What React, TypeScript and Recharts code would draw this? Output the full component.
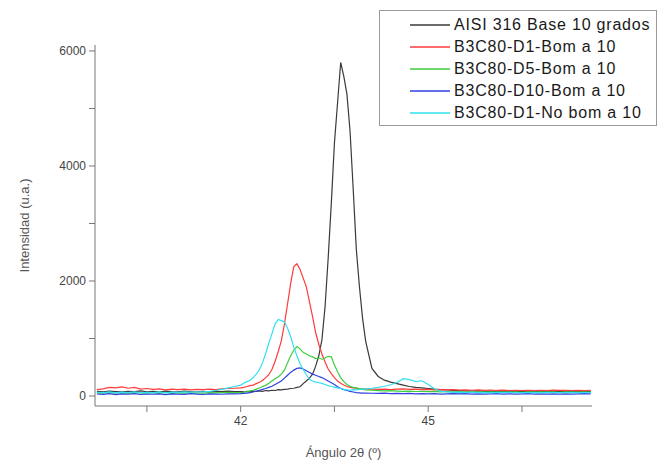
import React from 'react';
import { LineChart, Line, XAxis, YAxis, Legend, Label } from 'recharts';

// Diffraction angle grid (2θ, degrees)
const anglesLow = [39.7, 39.8, 39.9, 40.0, 40.1, 40.2, 40.3, 40.4, 40.5, 40.6, 40.7, 40.8, 40.9, 41.0, 41.1, 41.2, 41.3, 41.4, 41.5, 41.6, 41.7, 41.8, 41.9];
const anglesPeak = [42.0, 42.05, 42.1, 42.15, 42.2, 42.25, 42.3, 42.35, 42.4, 42.45, 42.5, 42.55, 42.6, 42.65, 42.7, 42.75, 42.8, 42.85, 42.9, 42.95, 43.0, 43.05, 43.1, 43.15, 43.2, 43.25, 43.3, 43.35, 43.4, 43.45, 43.5, 43.55, 43.6, 43.65, 43.7, 43.75, 43.8, 43.85, 43.9, 43.95, 44.0];
const anglesHigh = [44.1, 44.2, 44.3, 44.4, 44.5, 44.6, 44.7, 44.8, 44.9, 45.0, 45.1, 45.2, 45.3, 45.4, 45.5, 45.6, 45.7, 45.8, 45.9, 46.0, 46.1, 46.2, 46.3, 46.4, 46.5, 46.6, 46.7, 46.8, 46.9, 47.0, 47.1, 47.2, 47.3, 47.4, 47.5, 47.6];

// Intensities (a.u.)
const aisiBase = [
  80, 72, 85, 78, 70, 82, 75, 88, 74, 80, 70, 84, 76, 72, 86, 78, 74, 82, 70, 80, 76, 84, 78,
  75, 70, 80, 72, 85, 78, 90, 82, 95, 88, 100, 96, 110, 105, 115, 120, 130, 135, 150, 160, 215, 260, 310, 380, 520, 700, 980, 1550, 2400, 3350, 4400, 5100, 5800, 5560, 5250, 4600, 3600, 2550, 1900, 1350, 950,
  480, 340, 275, 240, 215, 190, 165, 150, 140, 130, 118, 110, 104, 98, 92, 88, 85, 90, 82, 86, 80, 84, 78, 82, 76, 80, 84, 78, 82, 76, 80, 84, 78, 82, 76, 80,
];
const d1Bom = [
  110, 125, 150, 140, 160, 135, 150, 120, 130, 115, 125, 108, 118, 112, 120, 105, 115, 110, 118, 112, 125, 130, 135,
  140, 150, 165, 180, 190, 215, 240, 270, 320, 370, 460, 600, 770, 960, 1250, 1600, 1960, 2250, 2300, 2200, 2050, 1900, 1640, 1380, 1100, 900, 730, 590, 470, 390, 320, 260, 220, 190, 165, 150, 140, 135, 130, 125, 120,
  118, 115, 120, 112, 118, 125, 115, 120, 110, 115, 108, 112, 105, 110, 102, 108, 100, 105, 98, 104, 96, 102, 95, 100, 94, 98, 92, 100, 95, 102, 96, 100, 94, 98, 95, 100,
];
const d5Bom = [
  55, 48, 62, 50, 58, 45, 60, 52, 48, 56, 50, 62, 46, 55, 50, 58, 52, 48, 60, 54, 58, 62, 58,
  60, 65, 75, 90, 100, 120, 140, 165, 185, 220, 260, 300, 330, 380, 450, 580, 700, 800, 860, 820, 760, 730, 700, 680, 650, 660, 640, 660, 690, 680, 540, 420, 320, 250, 200, 170, 150, 140, 130, 115, 105,
  100, 95, 88, 92, 85, 80, 86, 78, 82, 75, 80, 72, 78, 70, 76, 68, 74, 70, 66, 72, 68, 74, 66, 70, 64, 72, 68, 74, 66, 70, 64, 72, 68, 66, 70, 68,
];
const d10Bom = [
  35, 28, 40, 25, 38, 30, 42, 26, 34, 30, 38, 24, 36, 30, 28, 40, 32, 26, 38, 34, 30, 36, 38,
  40, 45, 50, 60, 70, 85, 100, 115, 130, 150, 170, 200, 230, 260, 310, 360, 410, 450, 480, 490, 470, 440, 410, 380, 360, 340, 320, 290, 260, 230, 200, 160, 130, 110, 95, 80, 70, 60, 55, 50, 50,
  48, 44, 50, 42, 46, 40, 44, 38, 42, 36, 40, 34, 38, 42, 36, 40, 34, 38, 32, 36, 40, 34, 38, 32, 36, 40, 34, 38, 32, 36, 34, 38, 32, 36, 40, 36,
];
const d1NoBom = [
  65, 58, 70, 55, 68, 60, 72, 56, 64, 60, 70, 54, 66, 62, 70, 68, 74, 72, 80, 95, 115, 140, 165,
  190, 220, 250, 275, 320, 380, 460, 580, 740, 920, 1080, 1250, 1330, 1310, 1290, 1180, 1030, 850, 700, 560, 460, 370, 290, 260, 240, 230, 220, 200, 180, 165, 155, 140, 130, 115, 105, 100, 110, 105, 115, 120, 125,
  135, 150, 170, 195, 235, 300, 285, 250, 265, 200, 125, 80, 70, 64, 68, 60, 66, 58, 64, 56, 62, 58, 64, 56, 60, 58, 64, 56, 62, 58, 60, 56, 62, 58, 60, 58,
];

const seriesNames = [
  'AISI 316 Base 10 grados',
  'B3C80-D1-Bom a 10',
  'B3C80-D5-Bom a 10',
  'B3C80-D10-Bom a 10',
  'B3C80-D1-No bom a 10',
];
const xTicks = [40.5, 42, 43.5, 45, 46.5];
const xTickLabels = [42, 45];
const yTicks = [0, 1000, 2000, 3000, 4000, 5000, 6000];
const yTickLabels = [0, 2000, 4000, 6000];

const angles = [...anglesLow, ...anglesPeak, ...anglesHigh];
const data = angles.map((a, i) => ({
  angle: a,
  base: aisiBase[i],
  d1: d1Bom[i],
  d5: d5Bom[i],
  d10: d10Bom[i],
  d1no: d1NoBom[i],
}));

const FONT = '"Liberation Sans", Arial, sans-serif';

const LegendBox = (props: any) => {
  const payload = [...(props.payload || [])].sort(
    (a: any, b: any) => seriesNames.indexOf(a.value) - seriesNames.indexOf(b.value)
  );
  return (
    <div
      style={{
        width: 278,
        height: 116,
        border: '1px solid #9a9a9a',
        background: '#fff',
        boxSizing: 'border-box',
        paddingTop: 3,
        fontFamily: FONT,
      }}
    >
      {payload.map((e: any) => (
        <div key={e.value} style={{ display: 'flex', alignItems: 'center', height: 22 }}>
          <svg width={74} height={22} style={{ flex: 'none' }}>
            <line x1={30} x2={70} y1={11} y2={11} stroke={e.color} strokeWidth={1.5} />
          </svg>
          <span style={{ fontSize: 16, letterSpacing: 0.8, color: '#1a1a1a', whiteSpace: 'nowrap' }}>{e.value}</span>
        </div>
      ))}
    </div>
  );
};

export default function App() {
  return (
    <div style={{ position: 'absolute', left: 0, top: 0, background: '#fff' }}>
      <LineChart
        width={670}
        height={465}
        data={data}
        margin={{ top: 45, right: 78, bottom: 0, left: 25 }}
        style={{ fontFamily: FONT }}
      >
        <XAxis
          dataKey="angle"
          type="number"
          domain={[39.67, 47.62]}
          ticks={xTicks}
          allowDataOverflow
          height={59}
          tickSize={6}
          tickMargin={4}
          stroke="#777"
          tick={{ fill: '#444', fontSize: 12 }}
          tickFormatter={(v: number) => (xTickLabels.includes(v) ? String(v) : '')}
        >
          <Label value="Ángulo 2θ (º)" position="insideBottom" offset={8} fill="#555" fontSize={13} />
        </XAxis>
        <YAxis
          type="number"
          domain={[-174, 6104]}
          ticks={yTicks}
          allowDataOverflow
          width={70}
          tickSize={6}
          tickMargin={3}
          stroke="#777"
          tick={{ fill: '#444', fontSize: 12 }}
          tickFormatter={(v: number) => (yTickLabels.includes(v) ? String(v) : '')}
        >
          <Label
            value="Intensidad (u.a.)"
            angle={-90}
            position="insideLeft"
            offset={-1}
            fill="#555"
            fontSize={13}
            style={{ textAnchor: 'middle' }}
          />
        </YAxis>
        <Legend
          layout="vertical"
          align="center"
          verticalAlign="middle"
          content={LegendBox}
          wrapperStyle={{ left: 379, top: 10, width: 278, height: 116 }}
        />
        <Line dataKey="base" name={seriesNames[0]} stroke="#3a3a3a" strokeWidth={1.2} dot={false} isAnimationActive={false} />
        <Line dataKey="d1" name={seriesNames[1]} stroke="#ff3b3b" strokeWidth={1.2} dot={false} isAnimationActive={false} />
        <Line dataKey="d5" name={seriesNames[2]} stroke="#3ccc3c" strokeWidth={1.2} dot={false} isAnimationActive={false} />
        <Line dataKey="d10" name={seriesNames[3]} stroke="#3040e0" strokeWidth={1.2} dot={false} isAnimationActive={false} />
        <Line dataKey="d1no" name={seriesNames[4]} stroke="#30e0f0" strokeWidth={1.2} dot={false} isAnimationActive={false} />
      </LineChart>
    </div>
  );
}
